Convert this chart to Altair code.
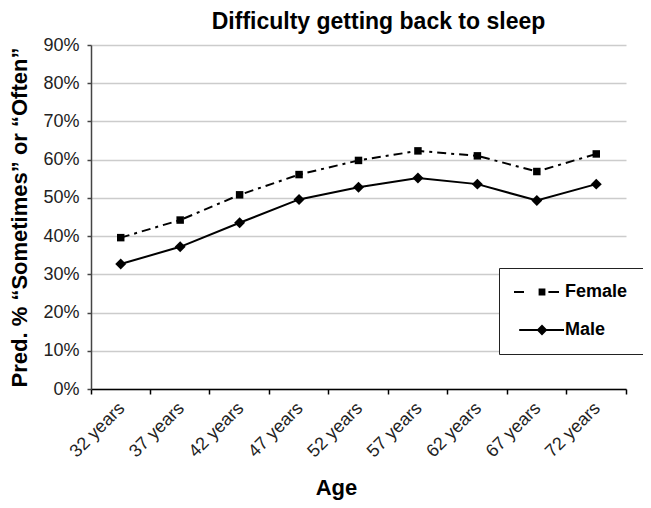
import altair as alt
import pandas as pd

ages = ["32 years", "37 years", "42 years", "47 years", "52 years",
        "57 years", "62 years", "67 years", "72 years"]
female = [39.6, 44.2, 50.8, 56.1, 59.8, 62.3, 61.0, 56.9, 61.5]
male = [32.7, 37.2, 43.5, 49.6, 52.8, 55.2, 53.6, 49.3, 53.6]
series = ["Female", "Male"]
y_ticks = [0, 10, 20, 30, 40, 50, 60, 70, 80, 90]

rows = []
for a, f, m in zip(ages, female, male):
    rows.append({"age": a, "sex": "Female", "pct": f})
    rows.append({"age": a, "sex": "Male", "pct": m})
df = pd.DataFrame(rows)

NARROW = "Liberation Sans Narrow, Arial Narrow, Liberation Sans, sans-serif"
BOLD = "Liberation Sans, Arial, sans-serif"

x_enc = alt.X(
    "age:N", sort=ages, bandPosition=0.5,
    scale=alt.Scale(type="band", paddingInner=0, paddingOuter=0),
    axis=alt.Axis(
        title="Age", titleFont=BOLD, titleFontSize=22, titleFontWeight="bold",
        titleColor="black", titleX=245, titleY=105, titleAlign="center",
        titleBaseline="alphabetic",
        labelAngle=315, labelAlign="right", labelBaseline="top",
        labelOffset=-5, labelPadding=5, labelFont=NARROW, labelFontSize=18,
        labelColor="#222222",
        bandPosition=1, tickExtra=True, tickSize=5, tickColor="black",
        tickWidth=1.5, domainColor="black", domainWidth=1.5, grid=False,
    ),
)
y_enc = alt.Y(
    "pct:Q",
    scale=alt.Scale(domain=[0, 90], nice=False, zero=True),
    axis=alt.Axis(
        values=y_ticks, labelExpr="datum.value + '%'",
        title="Pred. % \u201cSometimes\u201d or \u201cOften\u201d",
        titleFont=BOLD, titleFontSize=22, titleFontWeight="bold", titleColor="black",
        titleX=-72, titleY=172, titleAngle=270, titleAlign="center",
        titleBaseline="middle",
        labelFont=NARROW, labelFontSize=18, labelColor="#222222", labelPadding=8,
        tickSize=4, tickColor="#444444", tickWidth=1.5,
        domainColor="#444444", domainWidth=1.5,
        grid=True, gridColor="#cccccc", gridWidth=1.5,
    ),
)

base = alt.Chart(df).encode(x=x_enc, y=y_enc)

line_f = base.transform_filter("datum.sex == 'Female'").mark_line(
    color="black", strokeWidth=2, strokeDash=[9, 5, 3, 5])
line_m = base.transform_filter("datum.sex == 'Male'").mark_line(
    color="black", strokeWidth=2)
pts_f = base.transform_filter("datum.sex == 'Female'").mark_point(
    shape="square", filled=True, color="black", size=56, opacity=1)
pts_m = base.transform_filter("datum.sex == 'Male'").mark_point(
    shape="diamond", filled=True, color="black", size=120, opacity=1)

# legend glyphs (line + marker), drawn as filled shapes
path_f = ("M-7,-0.25H-4.5V0.25H-7Z M1.6,-0.25H4.25V0.25H1.6Z "
          "M-0.85,-0.85H0.85V0.85H-0.85Z")
path_m = "M-5.7,-0.25H5.5V0.25H-5.7Z M0,-1.35L1.35,0L0,1.35L-1.35,0Z"

leg = base.transform_filter("false").mark_point(
    filled=True, color="black", opacity=1, size=64
).encode(
    shape=alt.Shape(
        "sex:N",
        scale=alt.Scale(domain=series, range=[path_f, path_m]),
        legend=alt.Legend(
            title=None, orient="none", legendX=408, legendY=223,
            direction="vertical", padding=15, fillColor="white",
            strokeColor="#222222", symbolSize=64, symbolOffset=19,
            labelOffset=14, labelFont=BOLD, labelFontSize=18,
            labelFontWeight="bold", labelColor="black", rowPadding=20,
            symbolStrokeWidth=0, symbolFillColor="black",
        ),
    )
)

chart = alt.layer(line_f, line_m, pts_f, pts_m, leg).properties(
    width=535, height=344,
    title=alt.Title("Difficulty getting back to sleep", font=BOLD, fontSize=23,
                    fontWeight="bold", color="black", anchor="middle", dx=20,
                    offset=2),
    autosize=alt.AutoSizeParams(type="none"),
    padding={"left": 83, "top": 37, "right": 17, "bottom": 111},
).configure_view(stroke=None)

chart.save("out.html", embed_options={"renderer": "svg", "actions": False})
